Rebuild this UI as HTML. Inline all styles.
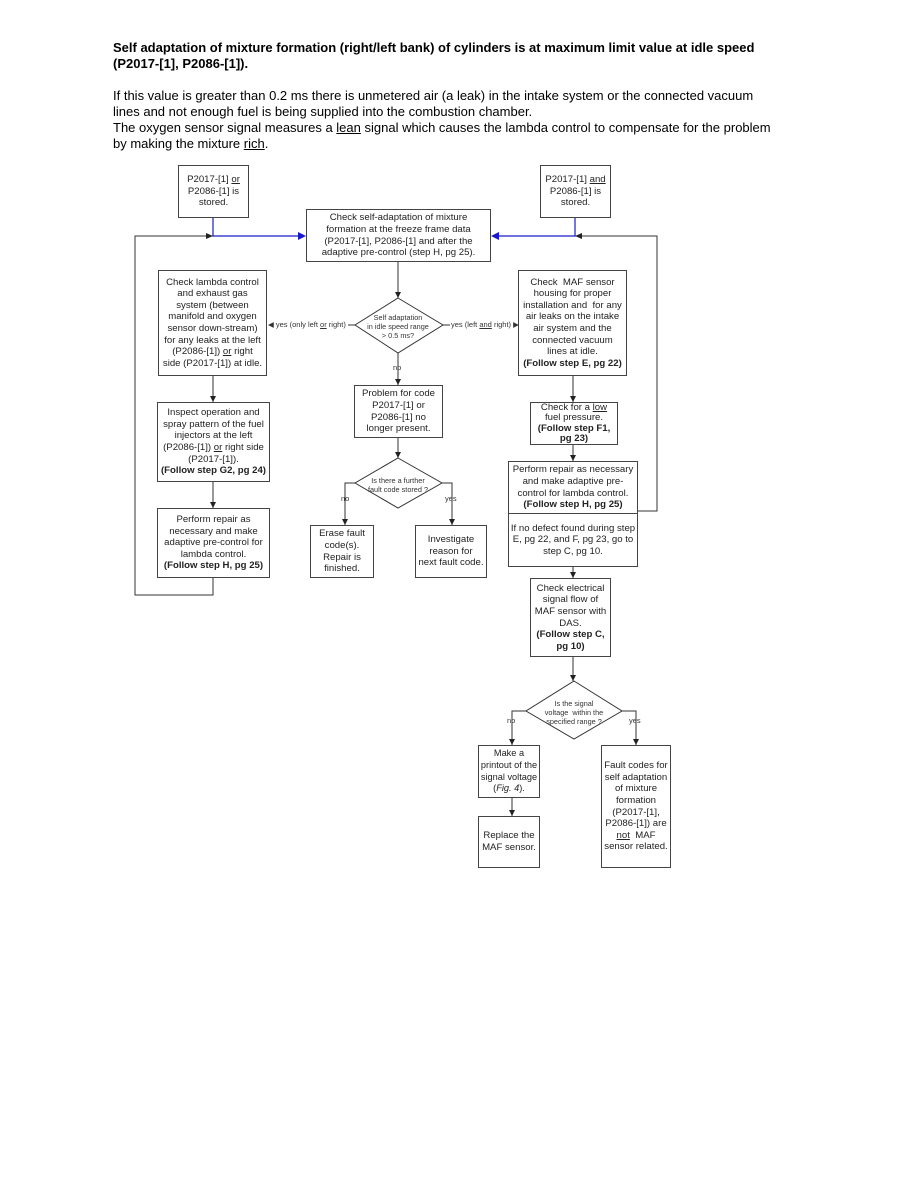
<!DOCTYPE html>
<html><head><meta charset="utf-8"><style>
body{margin:0;background:#fff;font-family:"Liberation Sans",Arial,sans-serif;color:#000}
#p{position:relative;width:918px;height:1188px;overflow:hidden}
.t{position:absolute;left:113px;font-size:13px;line-height:16px}
.b{position:absolute;border:1px solid #444;box-sizing:border-box;font-size:9.6px;line-height:11.6px;text-align:center;display:flex;align-items:center;justify-content:center;color:#222;background:#fff;padding:0}
.b>div{width:100%;white-space:nowrap}
.l{position:absolute;font-size:7.5px;color:#333;white-space:nowrap}
svg{position:absolute;left:0;top:0}
</style></head><body><div id="p">
<div class="t" style="top:40px;font-weight:bold">Self adaptation of mixture formation (right/left bank) of cylinders is at maximum limit value at idle speed<br>(P2017-[1], P2086-[1]).</div>
<div class="t" style="top:88px;width:700px">If this value is greater than 0.2 ms there is unmetered air (a leak) in the intake system or the connected vacuum<br>lines and not enough fuel is being supplied into the combustion chamber.<br>The oxygen sensor signal measures a <u>lean</u> signal which causes the lambda control to compensate for the problem<br>by making the mixture <u>rich</u>.</div>

<svg width="918" height="1188">
<g stroke="#333" stroke-width="1" fill="none">
<polyline points="213,578 213,595 135,595 135,236 213,236"/>
<polyline points="638,511 657,511 657,236 575,236"/>
<line x1="398" y1="262" x2="398" y2="298"/>
<line x1="398" y1="353" x2="398" y2="385"/>
<line x1="398" y1="438" x2="398" y2="458"/>
<polyline points="355,483 345,483 345,525"/>
<polyline points="442,483 452,483 452,525"/>
<line x1="355" y1="325" x2="348" y2="325"/>
<line x1="443" y1="325" x2="450" y2="325"/>
<line x1="213" y1="376" x2="213" y2="402"/>
<line x1="213" y1="482" x2="213" y2="508"/>
<line x1="573" y1="376" x2="573" y2="402"/>
<line x1="573" y1="445" x2="573" y2="461"/>
<line x1="573" y1="567" x2="573" y2="578"/>
<line x1="573" y1="657" x2="573" y2="681"/>
<polyline points="526,711 512,711 512,745"/>
<polyline points="622,711 636,711 636,745"/>
<line x1="512" y1="798" x2="512" y2="816"/>
<polygon points="398,298 443,325 398,353 355,325" fill="#fff"/>
<polygon points="398,458 442,483 398,508 355,483" fill="#fff"/>
<polygon points="574,681 622,711 574,739 526,711" fill="#fff"/>
</g>
<g stroke="#1a1acc" stroke-width="1.2">
<polyline points="213,218 213,236 300,236" fill="none"/>
<polyline points="575,218 575,236 497,236" fill="none"/>
</g>
<g fill="#1a1acc"><polygon points="306,236 298,232 298,240"/><polygon points="491,236 499,232 499,240"/></g>
<g fill="#222">
<polygon points="213,236 206,233 206,239"/><polygon points="575,236 582,233 582,239"/>
<polygon points="398,298 395,292 401,292"/><polygon points="398,385 395,379 401,379"/><polygon points="398,458 395,452 401,452"/>
<polygon points="345,525 342,519 348,519"/><polygon points="452,525 449,519 455,519"/>
<polygon points="213,402 210,396 216,396"/><polygon points="213,508 210,502 216,502"/>
<polygon points="573,402 570,396 576,396"/><polygon points="573,461 570,455 576,455"/>
<polygon points="573,578 570,572 576,572"/><polygon points="573,681 570,675 576,675"/>
<polygon points="512,745 509,739 515,739"/><polygon points="636,745 633,739 639,739"/><polygon points="512,816 509,810 515,810"/>
</g>
</svg>

<div class="b" style="left:178px;top:165px;width:71px;height:53px"><div>P2017-[1] <u>or</u><br>P2086-[1] is<br>stored.</div></div>
<div class="b" style="left:540px;top:165px;width:71px;height:53px"><div>P2017-[1] <u>and</u><br>P2086-[1] is<br>stored.</div></div>
<div class="b" style="left:306px;top:209px;width:185px;height:53px"><div>Check self-adaptation of mixture<br>formation at the freeze frame data<br>(P2017-[1], P2086-[1] and after the<br>adaptive pre-control (step H, pg 25).</div></div>
<div class="b" style="left:158px;top:270px;width:109px;height:106px"><div>Check lambda control<br>and exhaust gas<br>system (between<br>manifold and oxygen<br>sensor down-stream)<br>for any leaks at the left<br>(P2086-[1]) <u>or</u> right<br>side (P2017-[1]) at idle.</div></div>
<div class="b" style="left:518px;top:270px;width:109px;height:106px"><div>Check &nbsp;MAF sensor<br>housing for proper<br>installation and &nbsp;for any<br>air leaks on the intake<br>air system and the<br>connected vacuum<br>lines at idle.<br><b>(Follow step E, pg 22)</b></div></div>
<div class="l" style="left:268px;top:320px">◀ yes (only left <u>or</u> right)</div>
<div class="l" style="left:451px;top:320px">yes (left <u>and</u> right) ▶</div>
<div class="l" style="left:365px;top:313px;width:66px;text-align:center;line-height:9px;font-size:7.3px">Self adaptation<br>in idle speed range<br>&gt; 0.5 ms?</div>
<div class="l" style="left:393px;top:363px">no</div>
<div class="b" style="left:354px;top:385px;width:89px;height:53px"><div>Problem for code<br>P2017-[1] or<br>P2086-[1] no<br>longer present.</div></div>
<div class="l" style="left:364px;top:476px;width:68px;text-align:center;line-height:9px;font-size:7.3px">Is there a further<br>fault code stored ?</div>
<div class="l" style="left:341px;top:494px">no</div>
<div class="l" style="left:445px;top:494px">yes</div>
<div class="b" style="left:310px;top:525px;width:64px;height:53px"><div>Erase fault<br>code(s).<br>Repair is<br>finished.</div></div>
<div class="b" style="left:415px;top:525px;width:72px;height:53px"><div>Investigate<br>reason for<br>next fault code.</div></div>
<div class="b" style="left:157px;top:402px;width:113px;height:80px"><div>Inspect operation and<br>spray pattern of the fuel<br>injectors at the left<br>(P2086-[1]) <u>or</u> right side<br>(P2017-[1]).<br><b>(Follow step G2, pg 24)</b></div></div>
<div class="b" style="left:157px;top:508px;width:113px;height:70px"><div>Perform repair as<br>necessary and make<br>adaptive pre-control for<br>lambda control.<br><b>(Follow step H, pg 25)</b></div></div>
<div class="b" style="left:530px;top:402px;width:88px;height:43px;line-height:10.4px"><div>Check for a <u>low</u><br>fuel pressure.<br><b>(Follow step F1,<br>pg 23)</b></div></div>
<div class="b" style="left:508px;top:461px;width:130px;height:53px"><div>Perform repair as necessary<br>and make adaptive pre-<br>control for lambda control.<br><b>(Follow step H, pg 25)</b></div></div>
<div class="b" style="left:508px;top:513px;width:130px;height:54px"><div>If no defect found during step<br>E, pg 22, and F, pg 23, go to<br>step C, pg 10.</div></div>
<div class="b" style="left:530px;top:578px;width:81px;height:79px"><div>Check electrical<br>signal flow of<br>MAF sensor with<br>DAS.<br><b>(Follow step C,<br>pg 10)</b></div></div>
<div class="l" style="left:538px;top:699px;width:72px;text-align:center;line-height:9px;font-size:7.3px">Is the signal<br>voltage &nbsp;within the<br>specified range ?</div>
<div class="l" style="left:507px;top:716px">no</div>
<div class="l" style="left:629px;top:716px">yes</div>
<div class="b" style="left:478px;top:745px;width:62px;height:53px;font-size:9.2px"><div>Make a<br>printout of the<br>signal voltage<br>(<i>Fig. 4</i>).</div></div>
<div class="b" style="left:478px;top:816px;width:62px;height:52px"><div>Replace the<br>MAF sensor.</div></div>
<div class="b" style="left:601px;top:745px;width:70px;height:123px"><div>Fault codes for<br>self adaptation<br>of mixture<br>formation<br>(P2017-[1],<br>P2086-[1]) are<br><u>not</u> &nbsp;MAF<br>sensor related.</div></div>
</div></body></html>
